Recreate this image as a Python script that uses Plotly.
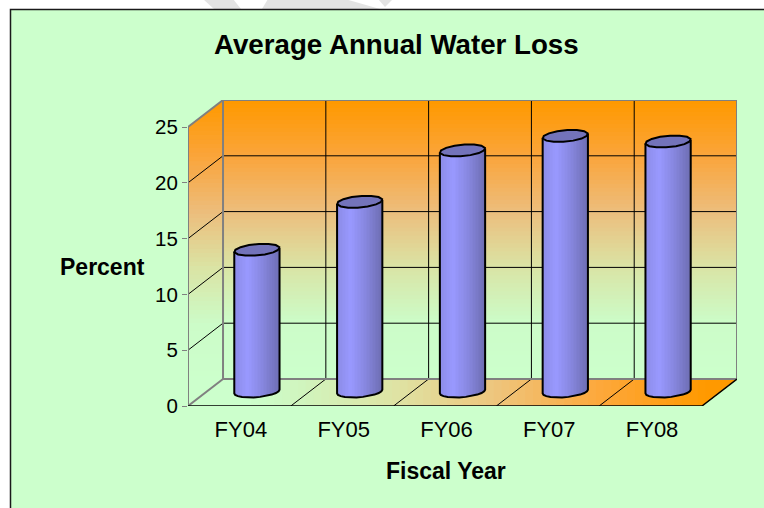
import numpy as np
import plotly.graph_objects as go

# ---- data ----
categories = ["FY04", "FY05", "FY06", "FY07", "FY08"]
water_loss = [12.7, 17.0, 21.6, 22.9, 22.4]
y_ticks = [0, 5, 10, 15, 20, 25]

# ---- style / geometry ----
W, H = 764, 508
L, R, T, B = 188, 27, 100, 102          # plot box in px
CAT_PX = 102.7                          # px per category
VAL_PX = 11.16                          # px per percent
DX_PX, DY_PX = 35, 27                   # depth offset in px
DX, DY = DX_PX / CAT_PX, DY_PX / VAL_PX
N = len(categories)
YMAX = 25
BG = "#CCFFCC"
GRAY = "#808080"
WALL_STOPS = [(0, (255, 153, 0)), (.2, (250, 165, 60)), (.4, (236, 190, 125)),
              (.6, (218, 228, 165)), (.8, (204, 252, 200)), (1, (204, 255, 204))]
FLOOR_STOPS = [(0, (204, 255, 204)), (.1, (204, 255, 204)), (.2, (208, 245, 190)),
               (.37, (222, 228, 165)), (.56, (238, 197, 125)), (.75, (253, 168, 60)),
               (.95, (255, 153, 0)), (1, (255, 153, 0))]
BAR_STOPS = [(0, (140, 140, 232)), (.28, (153, 153, 255)), (.62, (134, 134, 222)), (1, (108, 108, 176))]
xr = [-0.5, N - 0.5 + DX]
yr = [0, YMAX + DY]
PW, PH = W - L - R, H - T - B


def ramp(stops, f):
    f = min(max(f, 0), 1)
    for (a, ca), (b, cb) in zip(stops, stops[1:]):
        if a <= f <= b:
            g = (f - a) / (b - a)
            return "rgb(%d,%d,%d)" % tuple(round(ca[i] + (cb[i] - ca[i]) * g) for i in range(3))
    return "rgb(%d,%d,%d)" % stops[-1][1]


def poly(pts, color, layer="below"):
    d = "M" + "L".join(f"{x:.4f},{y:.4f}" for x, y in pts) + "Z"
    return dict(type="path", path=d, fillcolor=color, line_width=0, layer=layer)


def seg(x0, y0, x1, y1, color="black", w=1):
    return dict(type="line", x0=x0, y0=y0, x1=x1, y1=y1,
                line=dict(color=color, width=w), layer="below")


def px_x(x):
    return (x - L) / PW


def px_y(y):
    return (H - B - y) / PH


def page_poly(pts, color):
    d = "M" + "L".join(f"{px_x(x):.5f},{px_y(y):.5f}" for x, y in pts) + "Z"
    return dict(type="path", xref="paper", yref="paper", path=d, fillcolor=color, line_width=0, layer="below")


x0, x1 = -0.5, N - 0.5
shapes = []
# faint watermark fragments above the panel
for frag in ([(203, -1), (233, -1), (241, 9), (214, 9)],
             [(268, -1), (345, -1), (380, 9), (262, 9)],
             [(378, -1), (393, -1), (385, 7)]):
    shapes.append(page_poly(frag, "#E3E3E3"))
# green panel with dark border
shapes.append(dict(type="rect", xref="paper", yref="paper", x0=px_x(10.5), x1=px_x(770),
                   y0=px_y(520), y1=px_y(9.5), fillcolor=BG,
                   line=dict(color="#1a1a1a", width=1.5), layer="below"))

# back wall gradient
n = 70
for i in range(n):
    top = YMAX + DY - YMAX * i / n
    shapes.append(poly([(x0 + DX, top), (x1 + DX, top), (x1 + DX, DY), (x0 + DX, DY)], ramp(WALL_STOPS, i / (n - 1))))
# side wall gradient
for i in range(n):
    lvl = YMAX + DY - (YMAX + DY) * i / n
    pts = [(x0, 0), (x0, min(lvl, YMAX))]
    if lvl > YMAX:
        pts.append((x0 + DX * (lvl - YMAX) / DY, lvl))
    right = x0 + DX
    if lvl >= DY:
        pts += [(right, lvl), (right, DY)]
    else:
        pts.append((x0 + DX * lvl / DY, lvl))
    shapes.append(poly(pts, ramp(WALL_STOPS, (i / n) * 306 / 278)))
# floor gradient
m = 70
for i in range(m):
    a = x0 + (x1 - x0 + DX) * i / m
    if a <= x0 + DX:
        pts = [(a, DY * (a - x0) / DX), (x0 + DX, DY), (x1 + DX, DY), (x1, 0), (a, 0)]
    elif a <= x1:
        pts = [(a, DY), (x1 + DX, DY), (x1, 0), (a, 0)]
    else:
        pts = [(a, DY), (x1 + DX, DY), (a, DY * (a - x1) / DX)]
    shapes.append(poly(pts, ramp(FLOOR_STOPS, i / (m - 1))))

# grid
for v in y_ticks[1:-1]:
    shapes.append(seg(x0, v, x0 + DX, v + DY))
    shapes.append(seg(x0 + DX, v + DY, x1 + DX, v + DY))
for k in range(1, N):
    shapes.append(seg(x0 + k + DX, DY, x0 + k + DX, YMAX + DY))
    shapes.append(seg(x0 + k, 0, x0 + k + DX, DY))
    shapes.append(seg(x0 + k, 0, x0 + k, -5 / VAL_PX, color="#405040"))
# wall edges
shapes += [
    seg(x0, 0, x0, YMAX, GRAY, 2),
    seg(x0, YMAX, x0 + DX, YMAX + DY, GRAY, 2),
    seg(x0 + DX, YMAX + DY, x1 + DX, YMAX + DY, GRAY, 2),
    seg(x1 + DX, DY, x1 + DX, YMAX + DY, GRAY, 2),
    seg(x0 + DX, DY, x0 + DX, YMAX + DY, GRAY, 2),
    seg(x0 + DX, DY, x1 + DX, DY, GRAY, 2),
    seg(x0, 0, x0 + DX, DY, GRAY, 2),
    seg(x0, 0, x1, 0, "black", 1.5),
    seg(x1, 0, x1 + DX, DY, "black", 1.5),
    seg(x0, 0, x0, -5 / VAL_PX, GRAY, 2),
    seg(x1, 0, x1, -5 / VAL_PX, "#405040"),
]

# ---- cylinders (standing mid-depth on the floor) ----
A, S, E = 21.5, 7.0, 6.0      # ellipse shape in px
floor_mid = DY / 2 + 0.09
centers = np.arange(N) + DX / 2
half = np.hypot(A, S) / CAT_PX
t = np.linspace(0, 2 * np.pi, 15)
ex = (A * np.cos(t) + S * np.sin(t)) / CAT_PX
ey = E * np.sin(t) / VAL_PX
t_left = np.pi + np.arctan2(S, A)
ts = np.linspace(t_left, t_left + np.pi, 12)
lx = (A * np.cos(ts) + S * np.sin(ts)) / CAT_PX
ly = E * np.sin(ts) / VAL_PX

traces = []
nb = 30
step = 2 * half / nb
for i in range(nb):
    f = i / nb
    start = -half + step * i
    base_off = np.interp(start + step / 2, lx, ly)
    bottom = floor_mid + base_off
    base = [bottom] * N
    y = [floor_mid + v - bottom for v in water_loss]
    width = step * 1.35 if i < nb - 1 else step
    traces.append(go.Bar(x=centers + start, y=y, base=base, width=width, offset=0,
                         marker=dict(color=ramp(BAR_STOPS, f), line_width=0),
                         hoverinfo="skip", showlegend=False))

for c, v in zip(centers, water_loss):
    top = floor_mid + v
    ox = [c + lx[0]] + list(c + lx) + [c + lx[-1]]
    oy = [top + ly[0]] + list(floor_mid + ly) + [top + ly[-1]]
    traces.append(go.Scatter(x=ox, y=oy, mode="lines", line=dict(color="black", width=2),
                             hoverinfo="skip", showlegend=False))
    traces.append(go.Scatter(x=c + ex, y=top + ey, mode="lines", fill="toself", fillcolor="#7373BA",
                             line=dict(color="black", width=2), hoverinfo="skip", showlegend=False))

fig = go.Figure(traces)
fig.update_layout(
    width=W, height=H, margin=dict(l=L, r=R, t=T, b=B, pad=0),
    paper_bgcolor="white", plot_bgcolor="rgba(0,0,0,0)", barmode="overlay", bargap=0,
    font=dict(family="Liberation Sans, Arial, sans-serif", color="black"),
    showlegend=False, shapes=shapes,
    xaxis=dict(range=xr, tickmode="array", tickvals=[i + 1.5 / CAT_PX for i in range(N)], ticktext=categories,
               showgrid=False, zeroline=False, showline=False, ticks="outside", ticklen=4,
               tickcolor="rgba(0,0,0,0)", tickfont=dict(size=22)),
    yaxis=dict(range=yr, tickmode="array", tickvals=y_ticks, showgrid=False, zeroline=False,
               showline=False, ticks="outside", ticklen=5, tickcolor=GRAY, tickwidth=1,
               tickfont=dict(size=20.5)),
    annotations=[
        dict(text="<b>Average Annual Water Loss</b>", xref="paper", yref="paper", xanchor="center", yanchor="middle",
             x=px_x(396), y=px_y(45), showarrow=False, font=dict(size=27.7)),
        dict(text="<b>Percent</b>", xref="paper", yref="paper", xanchor="center", yanchor="middle",
             x=px_x(102), y=px_y(267), showarrow=False, font=dict(size=23)),
        dict(text="<b>Fiscal Year</b>", xref="paper", yref="paper", xanchor="center", yanchor="middle",
             x=px_x(446), y=px_y(471), showarrow=False, font=dict(size=23)),
    ],
)
fig.write_html("out.html", config=dict(displayModeBar=False),
               post_script="document.body.style.margin='0';document.body.style.overflow='hidden';")
